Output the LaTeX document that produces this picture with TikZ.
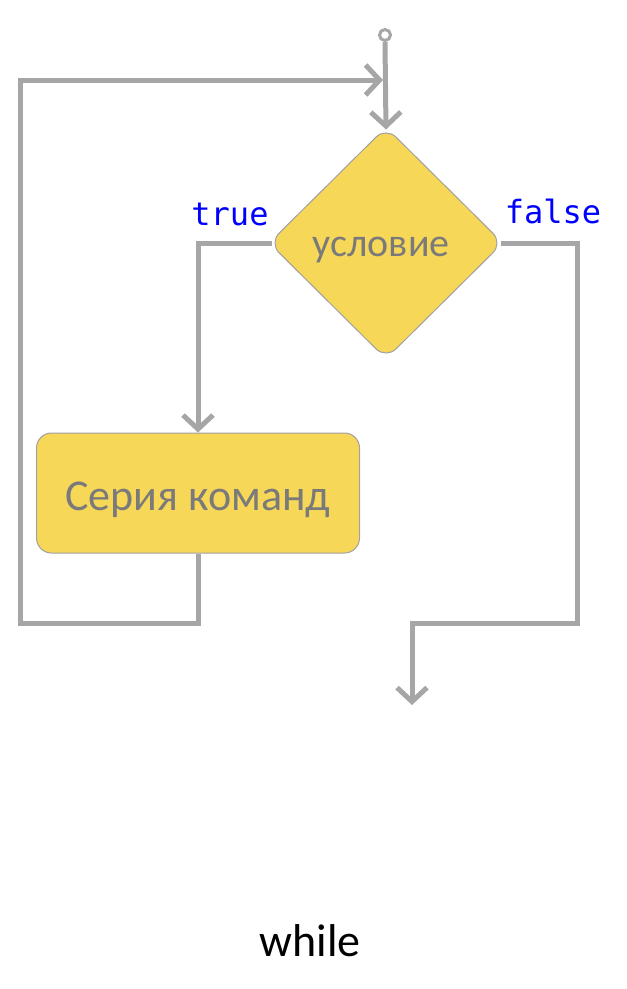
\documentclass[tikz,border=0pt]{standalone}
\usepackage{fontspec}
\setmainfont{Carlito}
\newfontfamily\monofnt{DejaVu Sans Mono}
\usetikzlibrary{shapes.geometric,arrows.meta,positioning}
\definecolor{linegray}{HTML}{A6A6A6}
\definecolor{boxfill}{HTML}{F7D758}
\definecolor{boxedge}{HTML}{A0A0A0}
\definecolor{txtgray}{HTML}{7A7A7A}
\definecolor{lblblue}{HTML}{0000FF}
\tikzset{
  flow/.style={draw=linegray, line width=5pt},
  arr/.style={flow, -{Straight Barb[length=14pt,width=30pt]}},
  blockbox/.style={draw=boxedge, line width=1pt, fill=boxfill, rounded corners=15pt},
  blocktext/.style={text=txtgray, font=\fontsize{44}{50}\selectfont, inner sep=0pt},
  decide/.style={diamond, aspect=1, draw=boxedge, line width=1pt, fill=boxfill, rounded corners=14pt, inner sep=0pt, minimum width=234pt, minimum height=232pt},
  lbl/.style={text=lblblue, font=\monofnt\fontsize{32}{36}\selectfont, inner sep=0pt},
}
\begin{document}
\begin{tikzpicture}[x=1pt,y=-1pt]
\useasboundingbox (0,0) rectangle (627,989);
\node[decide] (cond) at (386,243) {};
\node[text=txtgray, font=\fontsize{40}{46}\selectfont] (condtxt) at (381,250) {условие};
\node[blockbox, minimum width=323pt, minimum height=120pt] (body) at (198,493) {};
\node[blocktext, anchor=base] (bodytxt) at (198,510) {Серия команд};
\node[circle, draw=linegray, line width=3pt, fill=white, inner sep=0pt, minimum size=11pt] (start) at (385,35) {};
\coordinate (join) at (385,80);
\coordinate (exit) at (412,705);
% start to condition
\draw[arr] (start.south) -- ([yshift=-3pt]cond.north);
% true branch
\draw[arr] ([xshift=3pt]cond.west) -| (body.north);
% loop back
\draw[arr] (body.south) -- (198,623) -| (20,80) -- ([xshift=-2pt]join);
% false branch
\draw[arr] ([xshift=-3pt]cond.east) -| (577,623) -| (exit);
% labels
\node[lbl] (tlbl) at (230,214) {true};
\node[lbl] (flbl) at (553,211) {false};
\node[font=\fontsize{46}{52}\selectfont] (title) at (310,941) {while};
\end{tikzpicture}
\end{document}
